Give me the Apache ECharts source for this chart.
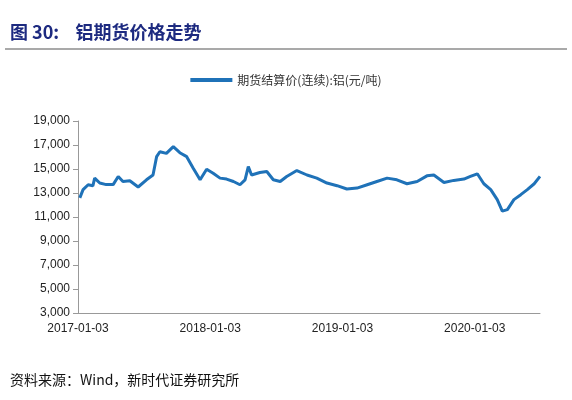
<!DOCTYPE html>
<html><head><meta charset="utf-8">
<script src="https://cdn.jsdelivr.net/npm/echarts@6/dist/echarts.min.js"></script>
<style>html,body{margin:0;padding:0;background:#fff}#c{width:572px;height:400px}</style>
</head><body><div id="c"></div>
<script>
const dates = ["2017-01-08","2017-01-17","2017-01-31","2017-02-13","2017-02-18","2017-03-04","2017-03-22","2017-04-10","2017-04-24","2017-05-07","2017-05-26","2017-06-18","2017-07-11","2017-07-29","2017-08-08","2017-08-17","2017-09-04","2017-09-23","2017-10-11","2017-10-30","2017-11-17","2017-12-06","2017-12-24","2018-01-11","2018-01-30","2018-02-17","2018-03-08","2018-03-26","2018-04-09","2018-04-18","2018-04-27","2018-05-20","2018-06-08","2018-06-26","2018-07-15","2018-08-02","2018-08-30","2018-09-27","2018-10-24","2018-11-21","2018-12-19","2019-01-15","2019-02-12","2019-03-12","2019-04-08","2019-05-06","2019-06-02","2019-06-30","2019-07-28","2019-08-24","2019-09-12","2019-10-10","2019-11-06","2019-12-04","2019-12-22","2020-01-10","2020-01-28","2020-02-16","2020-03-05","2020-03-19","2020-04-02","2020-04-20","2020-05-09","2020-05-27","2020-06-15","2020-07-01"];
const prices = [12590,13280,13690,13600,14240,13830,13700,13700,14380,13960,14020,13500,14100,14500,16030,16440,16300,16860,16360,16030,15070,14100,14980,14650,14240,14160,13960,13690,14100,15200,14500,14710,14790,14100,13960,14380,14870,14500,14240,13830,13610,13330,13410,13690,13960,14240,14100,13770,13960,14430,14500,13880,14050,14160,14380,14600,13770,13280,12450,11490,11620,12450,12860,13280,13770,14380];
const xTicks = ["2017-01-03","2018-01-03","2019-01-03","2020-01-03"];
const yTicks = [3000,5000,7000,9000,11000,13000,15000,17000,19000];
const seriesName = "期货结算价(连续):铝(元/吨)";
const DAY = 86400000;
const ts = s => new Date(s+"T00:00:00Z").getTime();
const t0 = ts(xTicks[0]);
const dayOf = s => Math.round((ts(s)-t0)/DAY);
const pad = n => (n<10?"0":"")+n;
const fmt = d => { const x=new Date(t0+d*DAY); return x.getUTCFullYear()+"-"+pad(x.getUTCMonth()+1)+"-"+pad(x.getUTCDate()); };
const chart = echarts.init(document.getElementById('c'));
chart.setOption({
  animation:false,
  title:[{text:"图 30:    铝期货价格走势",left:5,top:18,textStyle:{fontFamily:"Noto Sans CJK SC",fontWeight:"bold",fontSize:18,color:"#1d2a80"}},
         {text:"资料来源：Wind，新时代证券研究所",left:5,top:368,textStyle:{fontFamily:"Noto Sans CJK SC",fontWeight:"normal",fontSize:14,color:"#111"}}],
  graphic:[{type:"line",shape:{x1:5,y1:49,x2:567,y2:49},style:{stroke:"#555",lineWidth:1.2}}],
  legend:{top:69,left:"center",itemWidth:42,itemHeight:4,icon:"rect",textStyle:{fontFamily:"Noto Sans CJK SC",fontSize:12,color:"#333"},data:[seriesName]},
  grid:{left:78,right:32,top:121,bottom:87},
  xAxis:{type:"value",min:0,max:dayOf("2020-07-01"),interval:365,
    axisLine:{lineStyle:{color:"#999"}},axisTick:{show:false},splitLine:{show:false},
    axisLabel:{formatter:v=>(v<=dayOf(xTicks[xTicks.length-1])?fmt(v):""),color:"#222",fontSize:12,fontFamily:"Liberation Sans",margin:10,showMaxLabel:false}},
  yAxis:{type:"value",min:yTicks[0],max:yTicks[yTicks.length-1],interval:2000,
    axisLine:{show:true,lineStyle:{color:"#999"}},axisTick:{show:true,lineStyle:{color:"#999"}},splitLine:{show:false},
    axisLabel:{formatter:v=>v.toLocaleString("en-US"),color:"#222",fontSize:12,fontFamily:"Liberation Sans"}},
  series:[{name:seriesName,type:"line",data:dates.map((d,i)=>[dayOf(d),prices[i]]),showSymbol:false,
    lineStyle:{color:"#1f72b8",width:3},itemStyle:{color:"#1f72b8"}}]
});
</script></body></html>
